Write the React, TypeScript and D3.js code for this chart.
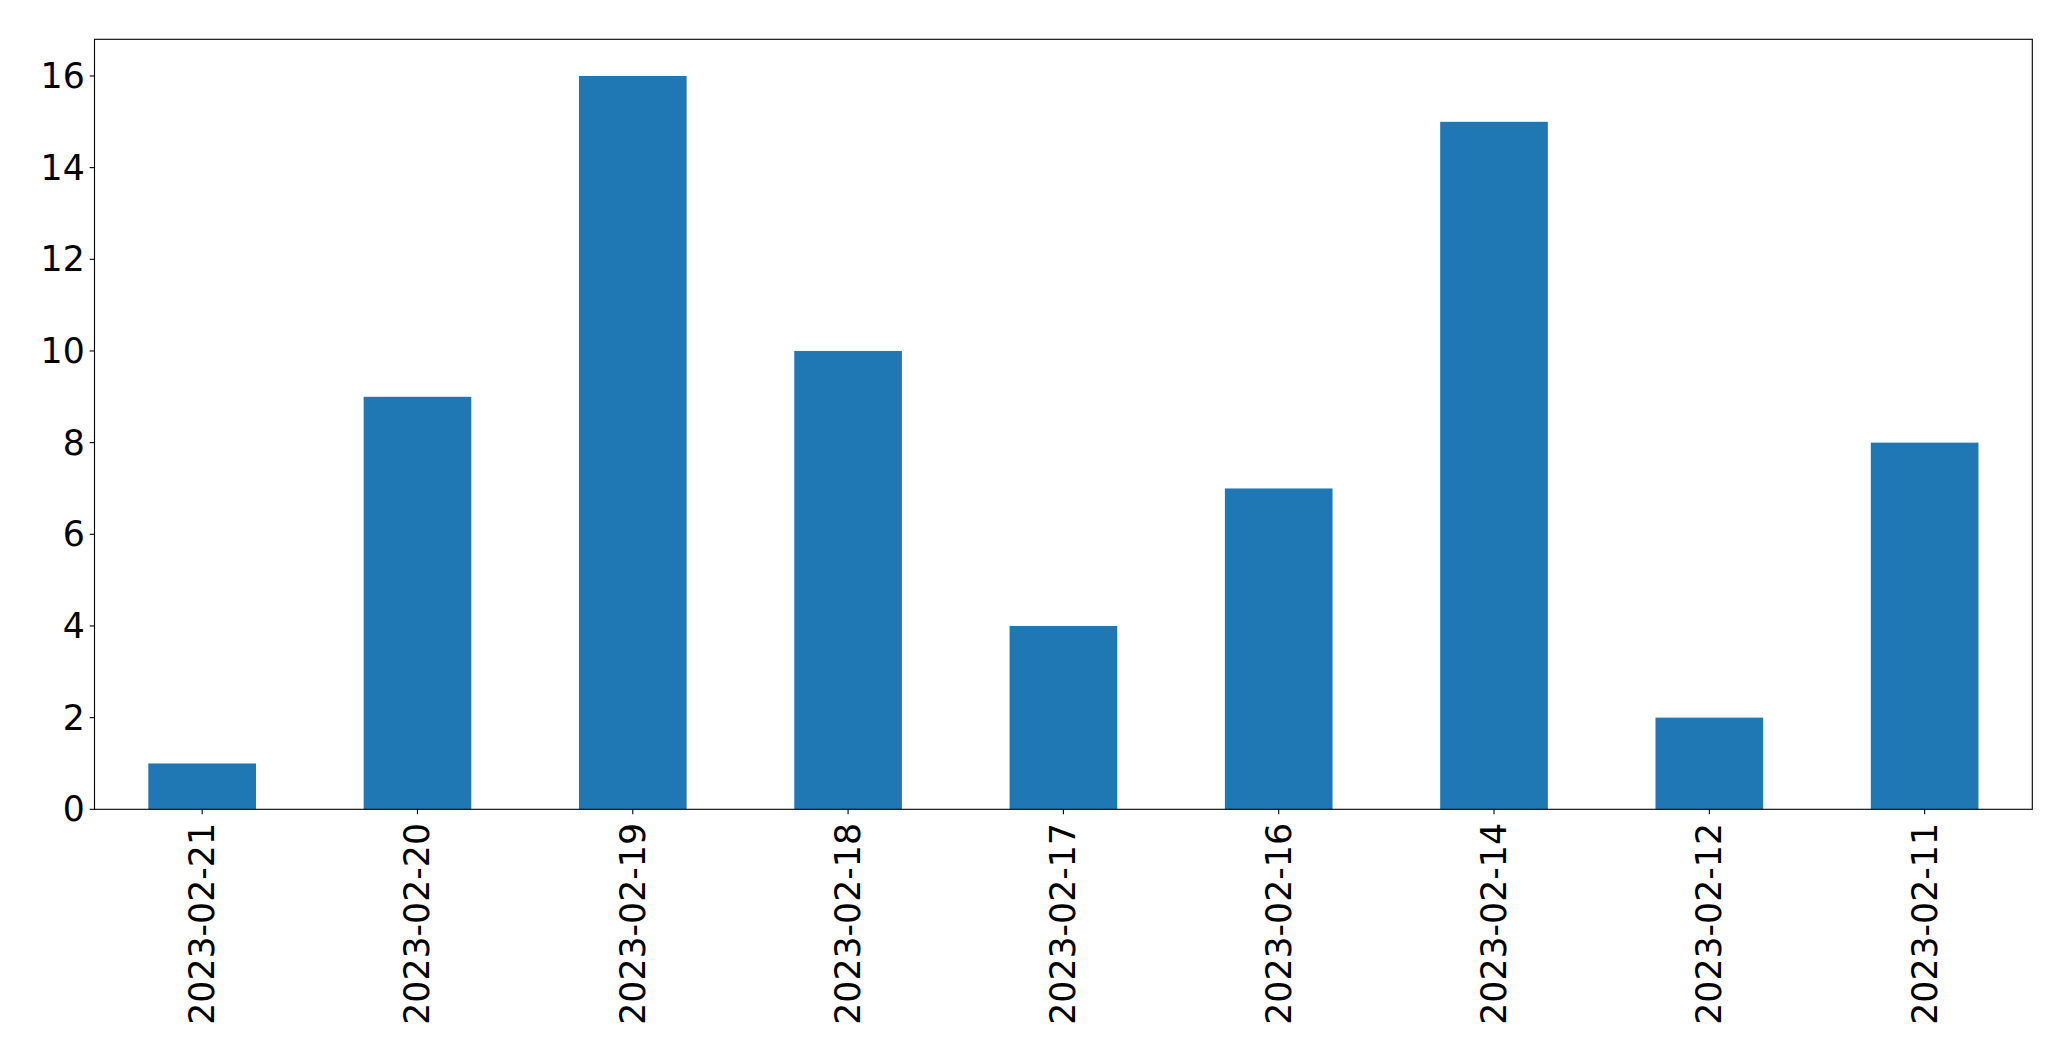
import React from "react";
import * as d3 from "d3";

const categories: string[] = [
  "2023-02-21",
  "2023-02-20",
  "2023-02-19",
  "2023-02-18",
  "2023-02-17",
  "2023-02-16",
  "2023-02-14",
  "2023-02-12",
  "2023-02-11",
];
const values: number[] = [1, 9, 16, 10, 4, 7, 15, 2, 8];
const yTicks: number[] = [0, 2, 4, 6, 8, 10, 12, 14, 16];

const W = 2071;
const H = 1061;
const left = 94.5;
const right = 2032.3;
const top = 39.3;
const bottom = 809.3;
const fontSize = 34.72;
const tickLen = 4.86;
const pad = 4.86;
const barColor = "#1f77b4";

export default function App() {
  const x = d3
    .scaleLinear()
    .domain([-0.5, categories.length - 0.5])
    .range([left, right]);
  const yMax = d3.max(values)! * 1.05;
  const y = d3.scaleLinear().domain([0, yMax]).range([bottom, top]);
  const bw = x(0.25) - x(-0.25);

  return (
    <svg
      width={W}
      height={H}
      style={{ position: "absolute", left: 0, top: 0, background: "#fff" }}
      fontFamily="DejaVu Sans"
    >
      <rect x={0} y={0} width={W} height={H} fill="#fff" />
      {values.map((v, i) => (
        <rect
          key={i}
          x={x(i) - bw / 2}
          y={y(v)}
          width={bw}
          height={y(0) - y(v)}
          fill={barColor}
        />
      ))}
      <rect
        x={left}
        y={top}
        width={right - left}
        height={bottom - top}
        fill="none"
        stroke="#000"
        strokeWidth={1.1}
      />
      {yTicks.map((t) => (
        <g key={t}>
          <line
            x1={left - tickLen}
            x2={left}
            y1={y(t)}
            y2={y(t)}
            stroke="#000"
            strokeWidth={1.1}
          />
          <text
            x={left - tickLen - pad}
            y={y(t)}
            textAnchor="end"
            dominantBaseline="central"
            fontSize={fontSize}
            fill="#000"
          >
            {t}
          </text>
        </g>
      ))}
      {categories.map((c, i) => (
        <g key={c}>
          <line
            x1={x(i)}
            x2={x(i)}
            y1={bottom}
            y2={bottom + tickLen}
            stroke="#000"
            strokeWidth={1.1}
          />
          <text
            transform={`translate(${x(i)},${bottom + tickLen + pad + 4}) rotate(-90)`}
            textAnchor="end"
            dominantBaseline="central"
            fontSize={fontSize}
            fill="#000"
          >
            {c}
          </text>
        </g>
      ))}
    </svg>
  );
}
